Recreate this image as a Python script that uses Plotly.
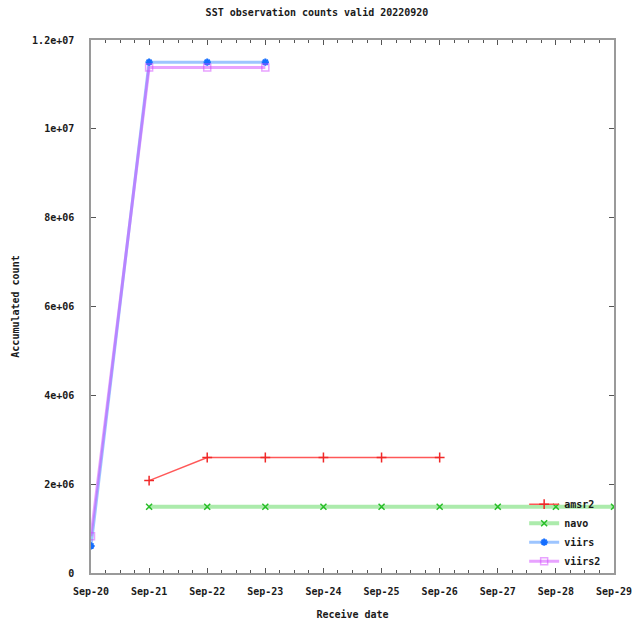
import plotly.graph_objects as go

# Receive dates per instrument and accumulated observation counts
amsr2_dates = ["2022-09-21", "2022-09-22", "2022-09-23", "2022-09-24", "2022-09-25", "2022-09-26"]
amsr2_counts = [2.08e6, 2.60e6, 2.60e6, 2.60e6, 2.60e6, 2.60e6]

navo_dates = ["2022-09-21", "2022-09-22", "2022-09-23", "2022-09-24", "2022-09-25",
              "2022-09-26", "2022-09-27", "2022-09-28", "2022-09-29"]
navo_counts = [1.49e6, 1.49e6, 1.49e6, 1.49e6, 1.49e6, 1.49e6, 1.49e6, 1.49e6, 1.49e6]

viirs_dates = ["2022-09-20", "2022-09-21", "2022-09-22", "2022-09-23"]
viirs_counts = [0.61e6, 11.50e6, 11.50e6, 11.50e6]

viirs2_dates = ["2022-09-20", "2022-09-21", "2022-09-22", "2022-09-23"]
viirs2_counts = [0.83e6, 11.38e6, 11.38e6, 11.38e6]

y_tick_vals = [0, 2e6, 4e6, 6e6, 8e6, 1e7, 1.2e7]
y_tick_text = ["0", "2e+06", "4e+06", "6e+06", "8e+06", "1e+07", "1.2e+07"]

FONT = "DejaVu Sans Mono"
TXT = dict(family=FONT, size=10, color="#1a1a1a", weight="bold")

fig = go.Figure()

fig.add_trace(go.Scatter(
    x=amsr2_dates, y=amsr2_counts, name="amsr2", mode="lines+markers",
    line=dict(color="rgba(255,70,70,0.9)", width=1.5),
    marker=dict(symbol="cross-thin", size=7, line=dict(color="rgb(240,40,40)", width=1.5)),
))
fig.add_trace(go.Scatter(
    x=navo_dates, y=navo_counts, name="navo", mode="lines+markers",
    line=dict(color="rgba(90,215,90,0.5)", width=4),
    marker=dict(symbol="x-thin", size=6, line=dict(color="rgb(40,190,40)", width=1.5)),
))
fig.add_trace(go.Scatter(
    x=viirs_dates, y=viirs_counts, name="viirs", mode="lines+markers",
    line=dict(color="rgba(60,140,255,0.5)", width=3),
    marker=dict(symbol="asterisk", size=6, line=dict(color="rgb(20,110,255)", width=2)),
))
fig.add_trace(go.Scatter(
    x=viirs2_dates, y=viirs2_counts, name="viirs2", mode="lines+markers",
    line=dict(color="rgba(210,70,255,0.5)", width=3),
    marker=dict(symbol="square-open", size=7, line=dict(color="rgb(200,60,255)", width=1.5)),
))

axis_common = dict(
    showgrid=False, zeroline=False, showline=True, linecolor="#9a9a9a", linewidth=1.5,
    mirror="ticks", ticks="inside", tickcolor="#555555", ticklen=5,
    tickfont=TXT, automargin=False,
)

fig.update_xaxes(
    type="date", range=["2022-09-20", "2022-09-29"],
    dtick=86400000, tick0="2022-09-20", tickformat="%b-%d",
    minor=dict(dtick=21600000, ticks="inside", ticklen=3, tickcolor="#555555"),
    ticklabelstandoff=8,
    title=dict(text="Receive date", font=TXT, standoff=15),
    **axis_common,
)
fig.update_yaxes(
    range=[0, 1.2e7], tickvals=y_tick_vals, ticktext=y_tick_text,
    ticklabelstandoff=13,
    title=dict(text="Accumulated count", font=TXT, standoff=11),
    **axis_common,
)

fig.update_layout(
    width=634, height=625,
    margin=dict(l=91, r=20, t=40, b=52),
    paper_bgcolor="white", plot_bgcolor="white",
    title=dict(text="SST observation counts valid 20220920", x=0.5, xanchor="center",
               y=0.985, yanchor="top", font=TXT),
    font=TXT,
    legend=dict(x=0.985, xanchor="right", y=-0.005, yanchor="bottom",
                bgcolor="rgba(0,0,0,0)", font=TXT,
                itemwidth=30, tracegroupgap=0),
)

fig.write_html("out.html")
